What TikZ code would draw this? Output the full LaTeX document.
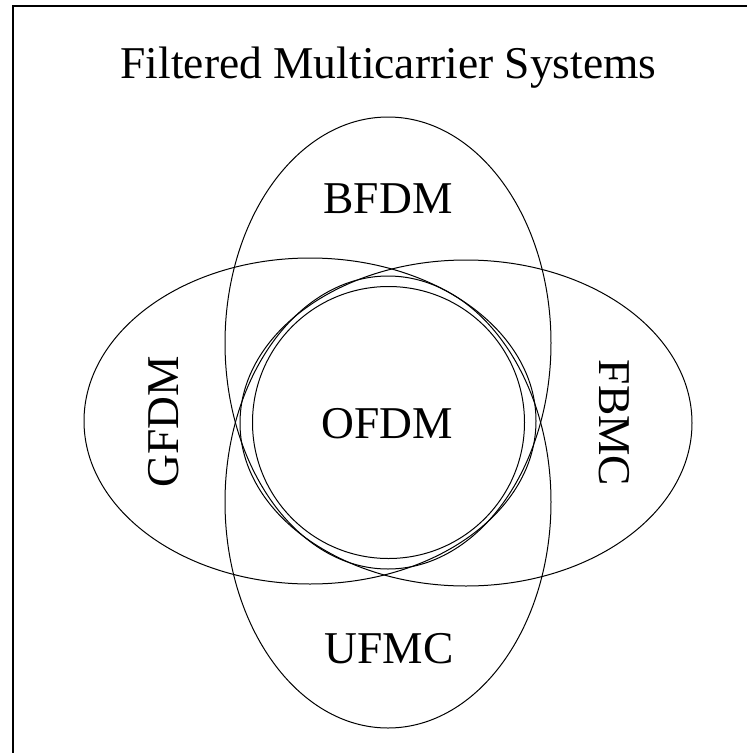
\documentclass[tikz,border=0pt]{standalone}
\usepackage{fontspec}
\setmainfont{Liberation Serif}
\begin{document}
\begin{tikzpicture}[x=1pt,y=-1pt,
  setline/.style={draw=black,line width=1pt},
  framel/.style={draw=black,line width=1.3pt},
  lbl/.style={font=\fontsize{45.5}{54}\selectfont,inner sep=0pt,anchor=base}]
  \useasboundingbox (0,0) rectangle (747,753);
  % frame: only the top and left edges fall inside the page
  \coordinate (ftr) at (760,6);
  \coordinate (ftl) at (13,6);
  \coordinate (fbl) at (13,760);
  \begin{scope}
    \clip (0,0) rectangle (747,753);
    \draw[framel] (ftr) -- (ftl) -- (fbl);
  \end{scope}
  % title
  \node[lbl] (title) at (388.5,78) {Filtered Multicarrier Systems};
  % the four filtered schemes and OFDM in the middle
  \draw[setline] (388,343) ellipse [x radius=163pt, y radius=226pt];
  \draw[setline] (388,502) ellipse [x radius=163pt, y radius=226pt];
  \draw[setline] (310,421) ellipse [x radius=226pt, y radius=163pt];
  \draw[setline] (466,423) ellipse [x radius=226pt, y radius=163pt];
  \draw[setline] (388.5,422.5) circle [radius=136pt];
  \node[lbl] (bfdm) at (388,213) {BFDM};
  \node[lbl] (ufmc) at (389,663) {UFMC};
  \node[lbl] (ofdm) at (387,438) {OFDM};
  \node[lbl,anchor=center,rotate=90] (gfdm) at (168,422) {\strut GFDM};
  \node[lbl,anchor=center,rotate=-90] (fbmc) at (610,423) {\strut FBMC};
\end{tikzpicture}
\end{document}
